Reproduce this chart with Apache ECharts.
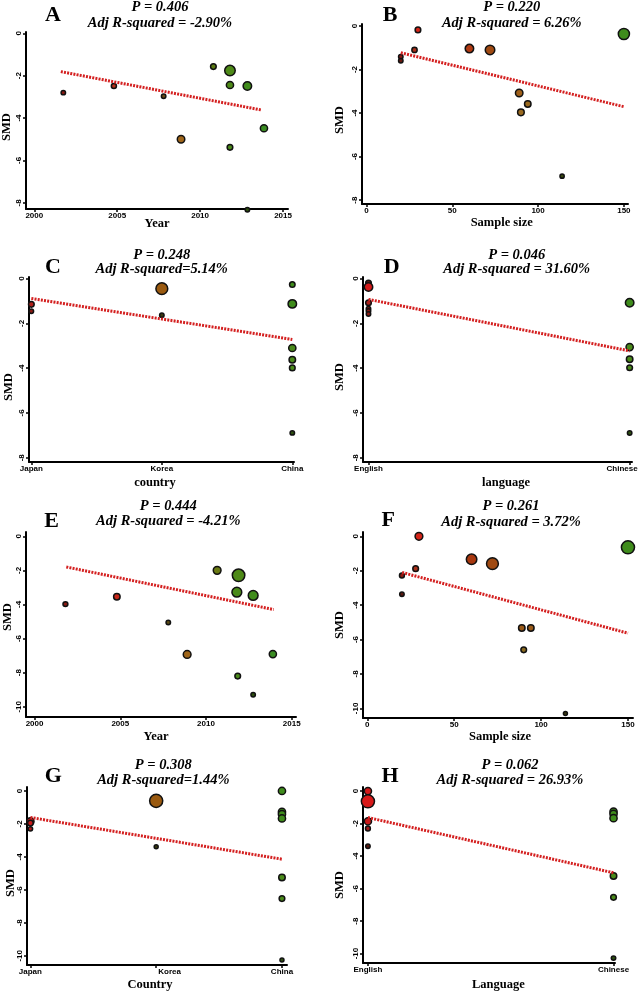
<!DOCTYPE html>
<html><head><meta charset="utf-8">
<style>html,body{margin:0;padding:0;background:#fff}#chart{width:640px;height:992px}</style>
<script src="https://cdn.jsdelivr.net/npm/echarts@6.0.0/dist/echarts.min.js"></script>
</head><body><div id="chart"></div>
<script>
// ---------- tick labels / categories ----------
const yearTicks = [2000, 2005, 2010, 2015];
const sampleTicks = [0, 50, 100, 150];
const smdTicks8 = [0, -2, -4, -6, -8];
const smdTicks10 = [0, -2, -4, -6, -8, -10];
const countries = ['Japan', 'Korea', 'China'];
const languages = ['English', 'Chinese'];

// ---------- panel A: Year ----------
const yearA = [2001.75, 2004.8, 2007.8, 2008.85, 2010.8, 2011.8, 2011.8, 2012.85, 2013.85, 2011.8, 2012.85];
const smdA  = [-2.8, -2.49, -2.97, -5.0, -1.57, -1.76, -2.44, -2.49, -4.48, -5.38, -8.33];
const wA    = [5, 6.5, 5, 14, 8, 27.6, 13, 18, 13, 8, 5];
const fitXA = [2001.6, 2013.7];
const fitYA = [-1.81, -3.62];

// ---------- panel B: Sample size ----------
const sampleB = [30, 28, 20, 20, 60, 72, 150, 89, 94, 90, 114];
const smdB    = [-0.18, -1.1, -1.41, -1.6, -1.04, -1.1, -0.37, -3.08, -3.59, -3.97, -6.9];
const wB      = [8, 7, 5, 5, 18, 22.6, 31, 14, 10.5, 11, 4.5];
const fitXB = [20, 150];
const fitYB = [-1.23, -3.71];

// ---------- panel C: country ----------
const countryC = ['Japan', 'Japan', 'Korea', 'Korea', 'China', 'China', 'China', 'China', 'China', 'China'];
const smdC     = [-1.15, -1.46, -0.45, -1.64, -0.27, -1.13, -3.1, -3.62, -3.99, -6.89];
const wC       = [8, 5, 35, 5, 7.6, 18, 13, 10.5, 8, 5];
const fitXC = ['Japan', 'China'];
const fitYC = [-0.89, -2.72];

// ---------- panel D: language ----------
const langD = ['English', 'English', 'English', 'English', 'English', 'English', 'Chinese', 'Chinese', 'Chinese', 'Chinese', 'Chinese'];
const smdD  = [-0.2, -0.38, -1.08, -1.35, -1.45, -1.58, -1.08, -3.06, -3.6, -3.98, -6.9];
const wD    = [8, 18, 8, 5, 5, 5, 18, 13, 10.5, 8, 5];
const fitXD = ['English', 'Chinese'];
const fitYD = [-0.93, -3.23];

// ---------- panel E: Year ----------
const yearE = [2001.8, 2004.8, 2007.8, 2008.9, 2010.65, 2011.9, 2011.8, 2012.75, 2013.9, 2011.85, 2012.75];
const smdE  = [-3.98, -3.55, -5.06, -6.93, -2.0, -2.29, -3.28, -3.47, -6.91, -8.2, -9.29];
const wE    = [6, 10.5, 5, 15, 15, 39, 24, 24, 13, 8, 5];
const fitXE = [2001.85, 2013.95];
const fitYE = [-1.8, -4.3];

// ---------- panel F: Sample size ----------
const sampleF = [29.7, 27.8, 19.9, 19.9, 60, 72, 150, 88.9, 94.1, 90, 114];
const smdF    = [0, -1.88, -2.28, -3.37, -1.34, -1.59, -0.64, -5.33, -5.33, -6.6, -10.3];
const wF      = [15, 8, 6, 5, 27.6, 35, 43, 10.5, 10.5, 8, 4];
const fitXF = [20, 150];
const fitYF = [-2.1, -5.63];

// ---------- panel G: Country ----------
const countryG = ['Japan', 'Japan', 'Japan', 'Korea', 'Korea', 'China', 'China', 'China', 'China', 'China', 'China', 'China'];
const smdG     = [-1.85, -1.95, -2.3, -0.6, -3.39, 0, -1.27, -1.41, -1.67, -5.25, -6.53, -10.26];
const wG       = [13, 8, 5, 43, 4, 13, 13, 13, 13, 10.5, 8, 4];
const fitXG = ['Japan', 'China'];
const fitYG = [-1.61, -4.14];

// ---------- panel H: Language ----------
const langH = ['English', 'English', 'English', 'English', 'English', 'Chinese', 'Chinese', 'Chinese', 'Chinese', 'Chinese', 'Chinese'];
const smdH  = [0, -0.63, -1.86, -2.3, -3.39, -1.27, -1.41, -1.67, -5.23, -6.54, -10.28];
const wH    = [13, 43, 13, 6, 5, 13, 13, 13, 10.5, 8, 5];
const fitXH = ['English', 'Chinese'];
const fitYH = [-1.63, -5.03];

// ---------- point fill colours (style) ----------
const colA = ['#8b1a12', '#b8301a', '#6a4a14', '#a0661a', '#5a7a12', '#4e8a18', '#4e8a18', '#408c1c', '#3a8c22', '#4a8a1a', '#2e5010'];
const colB = ['#d42418', '#a8301a', '#8b1a12', '#6a1a10', '#b03a12', '#a04a12', '#3f8c1c', '#a0601a', '#9a6a20', '#9a6a20', '#3a4a10'];
const colC = ['#b0201a', '#8b1a12', '#9a5a10', '#3a3a10', '#3f8c1c', '#3f8c1c', '#4a8a1a', '#4a8a1a', '#4a8a1a', '#2e5010'];
const colD = ['#5a1a10', '#d41a1a', '#a8201a', '#8b1a12', '#8b1a12', '#8b1a12', '#3f8c1c', '#4a8a1a', '#4a8a1a', '#4a8a1a', '#2e5010'];
const colE = ['#8b1a12', '#c8281a', '#5a4a14', '#a0661a', '#6a7a14', '#4e8a18', '#4a8a1a', '#408c1c', '#3a8c22', '#4a8a1a', '#2e5010'];
const colF = ['#d42418', '#a8301a', '#8b1a12', '#5a1a10', '#a8380f', '#a04a12', '#3f8c1c', '#9a5a18', '#9a5a18', '#8a6a20', '#3a3a10'];
const colG = ['#c81a1a', '#c81a1a', '#b01a1a', '#9a5a10', '#3a3a10', '#3f8c1c', '#3f8c1c', '#3f8c1c', '#3f8c1c', '#4a8a1a', '#4a8a1a', '#2e5010'];
const colH = ['#d41a1a', '#d81a1a', '#c81a1a', '#a01a1a', '#5a1a10', '#3f8c1c', '#3f8c1c', '#3f8c1c', '#4a8a1a', '#4a8a1a', '#2e5010'];

const cIdx = c => countries.indexOf(c) + 1;
const lIdx = l => languages.indexOf(l) + 1;

const tickFont = { fontSize: 8, fontWeight: 'bold', fontFamily: '"Liberation Sans", Arial, sans-serif', color: '#000' };
// label nudges (style only): shift a tick label sideways as in the original
const nudge = {
  l: Object.assign({ padding: [0, 15, 0, 0] }, tickFont),  // text drawn left of its tick
  r: Object.assign({ padding: [0, 0, 0, 27] }, tickFont),  // text drawn right of its tick
  n: Object.assign({}, tickFont)
};

const panels = [
  { rect: [26, 32, 262, 177], xr: [1999.5, 2015.3], yr: [-8.29, 0.06], xt: yearTicks, yt: smdTicks8,
    xs: yearA, ys: smdA, w: wA, col: colA, fx: fitXA, fy: fitYA },
  { rect: [362, 24, 266, 180], xr: [-2.6, 152.4], yr: [-8.18, 0.09], xt: sampleTicks, yt: smdTicks8,
    xs: sampleB, ys: smdB, w: wB, col: colB, fx: fitXB, fy: fitYB },
  { rect: [29, 277, 265, 185], xr: [0.982, 3.013], yr: [-8.19, 0.07], xt: [1, 2, 3], yt: smdTicks8,
    fmt: v => countries[Math.round(v) - 1],
    xs: countryC.map(cIdx), ys: smdC, w: wC, col: colC, fx: fitXC.map(cIdx), fy: fitYC },
  { rect: [363, 277, 269, 185], xr: [0.979, 2.009], yr: [-8.19, 0.07], xt: [1, 2], yt: smdTicks8,
    fmt: v => Math.round(v) === 2 ? '{l|' + languages[1] + '}' : '{n|' + languages[0] + '}',
    xs: langD.map(lIdx), ys: smdD, w: wD, col: colD, fx: fitXD.map(lIdx), fy: fitYD },
  { rect: [26, 532, 270, 185], xr: [1999.5, 2015.25], yr: [-10.6, 0.25], xt: yearTicks, yt: smdTicks10,
    xs: yearE, ys: smdE, w: wE, col: colE, fx: fitXE, fy: fitYE },
  { rect: [363, 532, 270, 186], xr: [-2.5, 152.9], yr: [-10.56, 0.25], xt: sampleTicks, yt: smdTicks10,
    xs: sampleF, ys: smdF, w: wF, col: colF, fx: fitXF, fy: fitYF },
  { rect: [27, 787, 260, 178], xr: [0.973, 3.04], yr: [-10.56, 0.24], xt: [1, 2, 3], yt: smdTicks10,
    fmt: v => Math.round(v) === 2 ? '{r|' + countries[1] + '}' : '{n|' + countries[Math.round(v) - 1] + '}',
    xs: countryG.map(cIdx), ys: smdG, w: wG, col: colG, fx: fitXG.map(cIdx), fy: fitYG },
  { rect: [363, 787, 252, 176], xr: [0.98, 2.006], yr: [-10.58, 0.25], xt: [1, 2], yt: smdTicks10,
    fmt: v => languages[Math.round(v) - 1],
    xs: langH.map(lIdx), ys: smdH, w: wH, col: colH, fx: fitXH.map(lIdx), fy: fitYH }
];

const grids = [], xAxes = [], yAxes = [], series = [];
panels.forEach((p, i) => {
  grids.push({ left: p.rect[0], top: p.rect[1], width: p.rect[2], height: p.rect[3], containLabel: false, outerBoundsMode: 'none' });
  xAxes.push({
    type: 'value', gridIndex: i, min: p.xr[0], max: p.xr[1],
    axisLine: { show: true, onZero: false, lineStyle: { color: '#000', width: 2 } },
    axisTick: { show: true, length: 3, lineStyle: { color: '#000', width: 1.5 }, customValues: p.xt },
    axisLabel: Object.assign({ margin: 3, customValues: p.xt, formatter: p.fmt || (v => String(v)), rich: nudge }, tickFont),
    splitLine: { show: false }
  });
  yAxes.push({
    type: 'value', gridIndex: i, min: p.yr[0], max: p.yr[1],
    axisLine: { show: true, onZero: false, lineStyle: { color: '#000', width: 2 } },
    axisTick: { show: true, length: 3, lineStyle: { color: '#000', width: 1.5 }, customValues: p.yt },
    axisLabel: Object.assign({ margin: 3, rotate: 90, customValues: p.yt, formatter: v => String(v) }, tickFont),
    splitLine: { show: false }
  });
  series.push({
    type: 'scatter', xAxisIndex: i, yAxisIndex: i, clip: false, z: 2,
    itemStyle: { borderColor: '#111', borderWidth: 1.5, opacity: 1 },
    data: p.xs.map((x, j) => ({ value: [x, p.ys[j]], symbolSize: 2 * Math.sqrt(p.w[j]), itemStyle: { color: p.col[j] } }))
  });
  series.push({
    type: 'line', xAxisIndex: i, yAxisIndex: i, z: 3, symbol: 'none', silent: true,
    lineStyle: { color: '#d42020', width: 3, type: [2, 1.2] },
    data: p.fx.map((x, j) => [x, p.fy[j]])
  });
});

// ---------- texts ----------
const serifBI = 'italic bold 14.5px "Liberation Serif", "Times New Roman", serif';
const serifB = 'bold 12.5px "Liberation Serif", "Times New Roman", serif';
const letterF = 'bold 22px "Liberation Serif", "Times New Roman", serif';
function txt(text, x, y, font, rot) {
  return { type: 'text', x: x, y: y, rotation: rot || 0, z: 10,
    style: { text: text, font: font, fill: '#000', textAlign: 'center', textVerticalAlign: 'middle', align: 'center', verticalAlign: 'middle' } };
}
const titles = [
  ['A', 53, 15, 160, 7, 23, 'P = 0.406', 'Adj R-squared = -2.90%', 'Year', 157, 224, 7, 127],
  ['B', 390, 15, 511.7, 7, 23, 'P = 0.220', 'Adj R-squared = 6.26%', 'Sample size', 501.7, 223, 340, 120],
  ['C', 53, 267, 161.7, 255, 269.3, 'P = 0.248', 'Adj R-squared=5.14%', 'country', 155, 483, 9, 387],
  ['D', 391.7, 267, 516.7, 255, 269.3, 'P = 0.046', 'Adj R-squared = 31.60%', 'language', 506, 483, 340, 377],
  ['E', 51.7, 521.7, 168.3, 506.7, 521.7, 'P = 0.444', 'Adj R-squared = -4.21%', 'Year', 156, 737, 8, 617],
  ['F', 388.3, 520.7, 511, 506.7, 522, 'P = 0.261', 'Adj R-squared = 3.72%', 'Sample size', 500, 737, 340, 625],
  ['G', 53.3, 776.7, 163.3, 765, 780.7, 'P = 0.308', 'Adj R-squared=1.44%', 'Country', 150, 985, 11, 883],
  ['H', 390, 776.7, 510, 765, 780.7, 'P = 0.062', 'Adj R-squared = 26.93%', 'Language', 498.3, 985, 340, 885]
];
const graphics = [];
titles.forEach(t => {
  graphics.push(txt(t[0], t[1], t[2], letterF));
  graphics.push(txt(t[6], t[3], t[4], serifBI));
  graphics.push(txt(t[7], t[3], t[5], serifBI));
  graphics.push(txt(t[8], t[9], t[10], serifB));
  graphics.push(txt('SMD', t[11], t[12], serifB, Math.PI / 2));
});

const chart = echarts.init(document.getElementById('chart'), null, { renderer: 'canvas' });
chart.setOption({
  animation: false,
  backgroundColor: '#fff',
  grid: grids, xAxis: xAxes, yAxis: yAxes, series: series,
  graphic: graphics
});
</script>
</body></html>
